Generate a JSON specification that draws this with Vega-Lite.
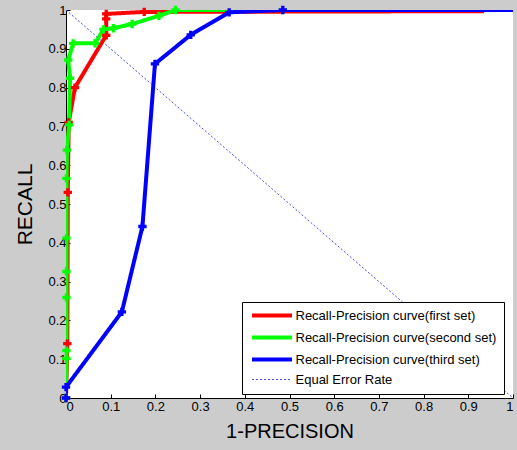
{
  "$schema": "https://vega.github.io/schema/vega-lite/v6.json",
  "width": 447,
  "height": 388,
  "autosize": "none",
  "padding": {"left": 66, "top": 10, "right": 4, "bottom": 52},
  "background": "#cccccc",
  "config": {
    "view": {"fill": "white", "stroke": null},
    "font": "Liberation Sans",
    "legend": {"orient": "none", "legendX": 176, "legendY": 292, "title": null, "strokeColor": "black", "fillColor": "white", "padding": 7, "labelFontSize": 13, "labelColor": "black", "labelLimit": 400, "symbolType": "M-5,0H5", "symbolSize": 64, "symbolOffset": 16.5, "labelOffset": 17, "rowPadding": 5, "symbolStrokeWidth": 4}
  },
  "datasets": {
    "curves": [
      {"s": "Recall-Precision curve(first set)", "i": 0, "x": 0, "y": 0},
      {"s": "Recall-Precision curve(first set)", "i": 1, "x": 0.003, "y": 0.14},
      {"s": "Recall-Precision curve(first set)", "i": 2, "x": 0.004, "y": 0.53},
      {"s": "Recall-Precision curve(first set)", "i": 3, "x": 0.006, "y": 0.71},
      {"s": "Recall-Precision curve(first set)", "i": 4, "x": 0.02, "y": 0.8},
      {"s": "Recall-Precision curve(first set)", "i": 5, "x": 0.09, "y": 0.935},
      {"s": "Recall-Precision curve(first set)", "i": 6, "x": 0.09, "y": 0.977},
      {"s": "Recall-Precision curve(first set)", "i": 7, "x": 0.09, "y": 0.99},
      {"s": "Recall-Precision curve(first set)", "i": 8, "x": 0.175, "y": 0.995},
      {"s": "Recall-Precision curve(first set)", "i": 9, "x": 0.935, "y": 0.997},
      {"s": "Recall-Precision curve(second set)", "i": 0, "x": 0, "y": 0},
      {"s": "Recall-Precision curve(second set)", "i": 1, "x": 0.001, "y": 0.102},
      {"s": "Recall-Precision curve(second set)", "i": 2, "x": 0.001, "y": 0.122},
      {"s": "Recall-Precision curve(second set)", "i": 3, "x": 0.001, "y": 0.259},
      {"s": "Recall-Precision curve(second set)", "i": 4, "x": 0.001, "y": 0.326},
      {"s": "Recall-Precision curve(second set)", "i": 5, "x": 0.001, "y": 0.412},
      {"s": "Recall-Precision curve(second set)", "i": 6, "x": 0.001, "y": 0.566},
      {"s": "Recall-Precision curve(second set)", "i": 7, "x": 0.002, "y": 0.639},
      {"s": "Recall-Precision curve(second set)", "i": 8, "x": 0.007, "y": 0.704},
      {"s": "Recall-Precision curve(second set)", "i": 9, "x": 0.009, "y": 0.824},
      {"s": "Recall-Precision curve(second set)", "i": 10, "x": 0.005, "y": 0.871},
      {"s": "Recall-Precision curve(second set)", "i": 11, "x": 0.016, "y": 0.914},
      {"s": "Recall-Precision curve(second set)", "i": 12, "x": 0.065, "y": 0.914},
      {"s": "Recall-Precision curve(second set)", "i": 13, "x": 0.084, "y": 0.95},
      {"s": "Recall-Precision curve(second set)", "i": 14, "x": 0.106, "y": 0.953},
      {"s": "Recall-Precision curve(second set)", "i": 15, "x": 0.148, "y": 0.964},
      {"s": "Recall-Precision curve(second set)", "i": 16, "x": 0.208, "y": 0.985},
      {"s": "Recall-Precision curve(second set)", "i": 17, "x": 0.245, "y": 1.0},
      {"s": "Recall-Precision curve(second set)", "i": 18, "x": 1.0, "y": 1.0},
      {"s": "Recall-Precision curve(third set)", "i": 0, "x": 0, "y": 0},
      {"s": "Recall-Precision curve(third set)", "i": 1, "x": 0, "y": 0.028},
      {"s": "Recall-Precision curve(third set)", "i": 2, "x": 0.125, "y": 0.222},
      {"s": "Recall-Precision curve(third set)", "i": 3, "x": 0.171, "y": 0.442},
      {"s": "Recall-Precision curve(third set)", "i": 4, "x": 0.199, "y": 0.861},
      {"s": "Recall-Precision curve(third set)", "i": 5, "x": 0.279, "y": 0.936},
      {"s": "Recall-Precision curve(third set)", "i": 6, "x": 0.365, "y": 0.994},
      {"s": "Recall-Precision curve(third set)", "i": 7, "x": 0.485, "y": 1.0},
      {"s": "Recall-Precision curve(third set)", "i": 8, "x": 1.0, "y": 1.0}
    ],
    "eer": [
      {"s": "Equal Error Rate", "i": 0, "x": 0, "y": 1},
      {"s": "Equal Error Rate", "i": 1, "x": 1, "y": 0}
    ]
  },
  "encoding": {
    "x": {
      "field": "x", "type": "quantitative",
      "scale": {"domain": [0, 1], "nice": false},
      "axis": {
        "values": [0, 0.1, 0.2, 0.3, 0.4, 0.5, 0.6, 0.7, 0.8, 0.9, 1],
        "format": "~g", "grid": false, "title": "1-PRECISION",
        "domainColor": "black", "tickColor": "black", "tickSize": -4,
        "labelFontSize": 13, "labelColor": "black", "labelPadding": 6,
        "titleFontSize": 20, "titleFontWeight": "normal", "titleColor": "black", "titlePadding": 8
      }
    },
    "y": {
      "field": "y", "type": "quantitative",
      "scale": {"domain": [0, 1], "nice": false},
      "axis": {
        "values": [0, 0.1, 0.2, 0.3, 0.4, 0.5, 0.6, 0.7, 0.8, 0.9, 1],
        "format": "~g", "grid": false, "title": "RECALL",
        "domainColor": "black", "tickColor": "black", "tickSize": -4,
        "labelFontSize": 13, "labelColor": "black", "labelPadding": 4,
        "titleFontSize": 21, "titleFontWeight": "normal", "titleColor": "black", "titlePadding": 12
      }
    }
  },
  "layer": [
    {
      "data": {"name": "eer"},
      "mark": {"type": "line", "clip": true, "strokeWidth": 1},
      "encoding": {
        "order": {"field": "i"},
        "color": {"field": "s", "type": "nominal",
          "scale": {"domain": ["Recall-Precision curve(first set)", "Recall-Precision curve(second set)", "Recall-Precision curve(third set)", "Equal Error Rate"], "range": ["#ff0000", "#00ff00", "#0000ff", "#4848ff"]},
          "legend": {"encode": {"symbols": {"update": {"strokeWidth": {"signal": "datum.label === 'Equal Error Rate' ? 1 : 4"}}}}}},
        "strokeDash": {"field": "s", "type": "nominal",
          "scale": {"domain": ["Recall-Precision curve(first set)", "Recall-Precision curve(second set)", "Recall-Precision curve(third set)", "Equal Error Rate"], "range": [[1, 0], [1, 0], [1, 0], [2, 2]]},
          "legend": {"encode": {"symbols": {"update": {"strokeWidth": {"signal": "datum.label === 'Equal Error Rate' ? 1 : 4"}}}}}}
      }
    },
    {
      "data": {"name": "curves"},
      "mark": {"type": "line", "clip": true, "strokeWidth": 4},
      "encoding": {
        "order": {"field": "i"},
        "color": {"field": "s", "type": "nominal"},
        "strokeDash": {"field": "s", "type": "nominal"}
      }
    },
    {
      "data": {"name": "curves"},
      "transform": [{"filter": "datum.x < 0.9"}],
      "mark": {"type": "point", "shape": "cross", "filled": true, "size": 70, "opacity": 1},
      "encoding": {
        "color": {"field": "s", "type": "nominal"}
      }
    }
  ]
}
